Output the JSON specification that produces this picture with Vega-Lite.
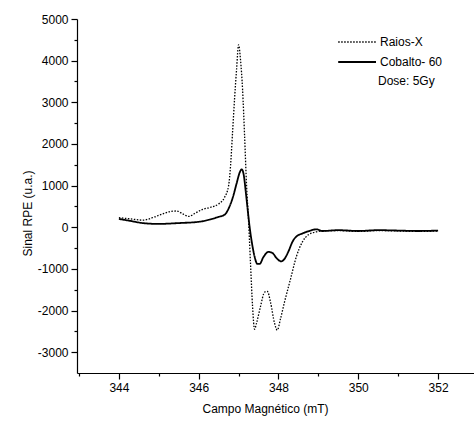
{
  "$schema": "https://vega.github.io/schema/vega-lite/v6.json",
  "width": 397,
  "height": 354,
  "autosize": "none",
  "padding": {"left": 77, "top": 19, "right": 0, "bottom": 52},
  "background": "white",
  "config": {
    "view": {"stroke": null},
    "font": "Liberation Sans",
    "axis": {"grid": false, "domainColor": "black", "tickColor": "black", "labelColor": "black", "titleColor": "black", "labelFont": "Liberation Sans", "titleFont": "Liberation Sans", "labelFontSize": 12, "titleFontSize": 12, "titleFontWeight": "normal", "domainWidth": 1.2, "tickWidth": 1.2}
  },
  "data": {"values": [
    {"campo": 344.0, "sinal": 230, "serie": "Raios-X"},
    {"campo": 344.3, "sinal": 200, "serie": "Raios-X"},
    {"campo": 344.6, "sinal": 170, "serie": "Raios-X"},
    {"campo": 344.9, "sinal": 250, "serie": "Raios-X"},
    {"campo": 345.1, "sinal": 320, "serie": "Raios-X"},
    {"campo": 345.3, "sinal": 380, "serie": "Raios-X"},
    {"campo": 345.45, "sinal": 390, "serie": "Raios-X"},
    {"campo": 345.6, "sinal": 320, "serie": "Raios-X"},
    {"campo": 345.75, "sinal": 260, "serie": "Raios-X"},
    {"campo": 345.9, "sinal": 330, "serie": "Raios-X"},
    {"campo": 346.1, "sinal": 430, "serie": "Raios-X"},
    {"campo": 346.3, "sinal": 480, "serie": "Raios-X"},
    {"campo": 346.5, "sinal": 560, "serie": "Raios-X"},
    {"campo": 346.65, "sinal": 720, "serie": "Raios-X"},
    {"campo": 346.75, "sinal": 1000, "serie": "Raios-X"},
    {"campo": 346.8, "sinal": 1500, "serie": "Raios-X"},
    {"campo": 346.85, "sinal": 2300, "serie": "Raios-X"},
    {"campo": 346.9, "sinal": 3100, "serie": "Raios-X"},
    {"campo": 346.95, "sinal": 3800, "serie": "Raios-X"},
    {"campo": 347.0, "sinal": 4380, "serie": "Raios-X"},
    {"campo": 347.05, "sinal": 4000, "serie": "Raios-X"},
    {"campo": 347.1, "sinal": 3300, "serie": "Raios-X"},
    {"campo": 347.15, "sinal": 2200, "serie": "Raios-X"},
    {"campo": 347.2, "sinal": 1000, "serie": "Raios-X"},
    {"campo": 347.25, "sinal": 150, "serie": "Raios-X"},
    {"campo": 347.3, "sinal": -900, "serie": "Raios-X"},
    {"campo": 347.35, "sinal": -1900, "serie": "Raios-X"},
    {"campo": 347.4, "sinal": -2450, "serie": "Raios-X"},
    {"campo": 347.45, "sinal": -2300, "serie": "Raios-X"},
    {"campo": 347.55, "sinal": -1900, "serie": "Raios-X"},
    {"campo": 347.65, "sinal": -1560, "serie": "Raios-X"},
    {"campo": 347.72, "sinal": -1540, "serie": "Raios-X"},
    {"campo": 347.8, "sinal": -1800, "serie": "Raios-X"},
    {"campo": 347.9, "sinal": -2300, "serie": "Raios-X"},
    {"campo": 347.97, "sinal": -2470, "serie": "Raios-X"},
    {"campo": 348.05, "sinal": -2200, "serie": "Raios-X"},
    {"campo": 348.15, "sinal": -1800, "serie": "Raios-X"},
    {"campo": 348.3, "sinal": -1250, "serie": "Raios-X"},
    {"campo": 348.45, "sinal": -700, "serie": "Raios-X"},
    {"campo": 348.6, "sinal": -350, "serie": "Raios-X"},
    {"campo": 348.75, "sinal": -180, "serie": "Raios-X"},
    {"campo": 348.9, "sinal": -120, "serie": "Raios-X"},
    {"campo": 349.1, "sinal": -90, "serie": "Raios-X"},
    {"campo": 349.5, "sinal": -80, "serie": "Raios-X"},
    {"campo": 350.0, "sinal": -100, "serie": "Raios-X"},
    {"campo": 350.5, "sinal": -80, "serie": "Raios-X"},
    {"campo": 351.0, "sinal": -90, "serie": "Raios-X"},
    {"campo": 351.5, "sinal": -100, "serie": "Raios-X"},
    {"campo": 352.0, "sinal": -90, "serie": "Raios-X"},
    {"campo": 344.0, "sinal": 200, "serie": "Cobalto- 60"},
    {"campo": 344.3, "sinal": 150, "serie": "Cobalto- 60"},
    {"campo": 344.6, "sinal": 100, "serie": "Cobalto- 60"},
    {"campo": 345.0, "sinal": 80, "serie": "Cobalto- 60"},
    {"campo": 345.5, "sinal": 100, "serie": "Cobalto- 60"},
    {"campo": 346.0, "sinal": 130, "serie": "Cobalto- 60"},
    {"campo": 346.3, "sinal": 190, "serie": "Cobalto- 60"},
    {"campo": 346.5, "sinal": 250, "serie": "Cobalto- 60"},
    {"campo": 346.65, "sinal": 300, "serie": "Cobalto- 60"},
    {"campo": 346.75, "sinal": 450, "serie": "Cobalto- 60"},
    {"campo": 346.85, "sinal": 700, "serie": "Cobalto- 60"},
    {"campo": 346.95, "sinal": 1050, "serie": "Cobalto- 60"},
    {"campo": 347.03, "sinal": 1320, "serie": "Cobalto- 60"},
    {"campo": 347.08, "sinal": 1390, "serie": "Cobalto- 60"},
    {"campo": 347.13, "sinal": 1250, "serie": "Cobalto- 60"},
    {"campo": 347.18, "sinal": 850, "serie": "Cobalto- 60"},
    {"campo": 347.23, "sinal": 400, "serie": "Cobalto- 60"},
    {"campo": 347.28, "sinal": -20, "serie": "Cobalto- 60"},
    {"campo": 347.33, "sinal": -350, "serie": "Cobalto- 60"},
    {"campo": 347.4, "sinal": -700, "serie": "Cobalto- 60"},
    {"campo": 347.47, "sinal": -880, "serie": "Cobalto- 60"},
    {"campo": 347.53, "sinal": -880, "serie": "Cobalto- 60"},
    {"campo": 347.62, "sinal": -720, "serie": "Cobalto- 60"},
    {"campo": 347.75, "sinal": -590, "serie": "Cobalto- 60"},
    {"campo": 347.85, "sinal": -620, "serie": "Cobalto- 60"},
    {"campo": 347.95, "sinal": -740, "serie": "Cobalto- 60"},
    {"campo": 348.07, "sinal": -820, "serie": "Cobalto- 60"},
    {"campo": 348.15, "sinal": -760, "serie": "Cobalto- 60"},
    {"campo": 348.25, "sinal": -580, "serie": "Cobalto- 60"},
    {"campo": 348.35, "sinal": -350, "serie": "Cobalto- 60"},
    {"campo": 348.45, "sinal": -220, "serie": "Cobalto- 60"},
    {"campo": 348.6, "sinal": -150, "serie": "Cobalto- 60"},
    {"campo": 348.8, "sinal": -80, "serie": "Cobalto- 60"},
    {"campo": 348.95, "sinal": -50, "serie": "Cobalto- 60"},
    {"campo": 349.1, "sinal": -90, "serie": "Cobalto- 60"},
    {"campo": 349.5, "sinal": -70, "serie": "Cobalto- 60"},
    {"campo": 350.0, "sinal": -90, "serie": "Cobalto- 60"},
    {"campo": 350.5, "sinal": -70, "serie": "Cobalto- 60"},
    {"campo": 351.0, "sinal": -80, "serie": "Cobalto- 60"},
    {"campo": 351.5, "sinal": -90, "serie": "Cobalto- 60"},
    {"campo": 352.0, "sinal": -80, "serie": "Cobalto- 60"}
  ]},
  "mark": {"type": "line", "color": "black", "interpolate": "monotone"},
  "encoding": {
    "x": {
      "field": "campo", "type": "quantitative",
      "scale": {"domain": [342.95, 352.9], "nice": false, "zero": false},
      "axis": {
        "title": "Campo Magnético (mT)",
        "values": [343, 344, 345, 346, 347, 348, 349, 350, 351, 352],
        "labelExpr": "datum.value % 2 === 0 ? '' + datum.value : ''",
        "tickSize": {"condition": {"test": "datum.value % 2 === 0", "value": 6}, "value": 3},
        "labelPadding": 3,
        "titlePadding": 10,
        "titleX": 188
      }
    },
    "y": {
      "field": "sinal", "type": "quantitative",
      "scale": {"domain": [-3500, 5000], "nice": false},
      "axis": {
        "title": "Sinal RPE (u.a.)",
        "values": [-3000, -2500, -2000, -1500, -1000, -500, 0, 500, 1000, 1500, 2000, 2500, 3000, 3500, 4000, 4500, 5000],
        "labelExpr": "datum.value % 1000 === 0 ? '' + datum.value : ''",
        "tickSize": {"condition": {"test": "datum.value % 1000 === 0", "value": 6}, "value": 3},
        "labelPadding": 3,
        "titlePadding": 3,
        "titleY": 194
      }
    },
    "strokeDash": {
      "field": "serie", "type": "nominal",
      "scale": {"domain": ["Raios-X", "Cobalto- 60"], "range": [[1.5, 1.5], [1, 0]]},
      "legend": {
        "title": "Dose: 5Gy",
        "titleOrient": "bottom",
        "titleFontSize": 12,
        "titleFontWeight": "normal",
        "titleFont": "Liberation Sans",
        "titleColor": "black",
        "titlePadding": 8,
        "labelFontSize": 12,
        "labelFont": "Liberation Sans",
        "labelColor": "black",
        "symbolType": "M-7.8,0H-1.5",
        "symbolSize": 144,
        "symbolStrokeColor": "black",
        "symbolStrokeWidth": 1,
        "labelOffset": -12,
        "rowPadding": 7,
        "orient": "none",
        "legendX": 301,
        "legendY": 16
      }
    },
    "strokeWidth": {
      "field": "serie", "type": "nominal",
      "scale": {"domain": ["Raios-X", "Cobalto- 60"], "range": [1.3, 1.8]},
      "legend": null
    }
  }
}
